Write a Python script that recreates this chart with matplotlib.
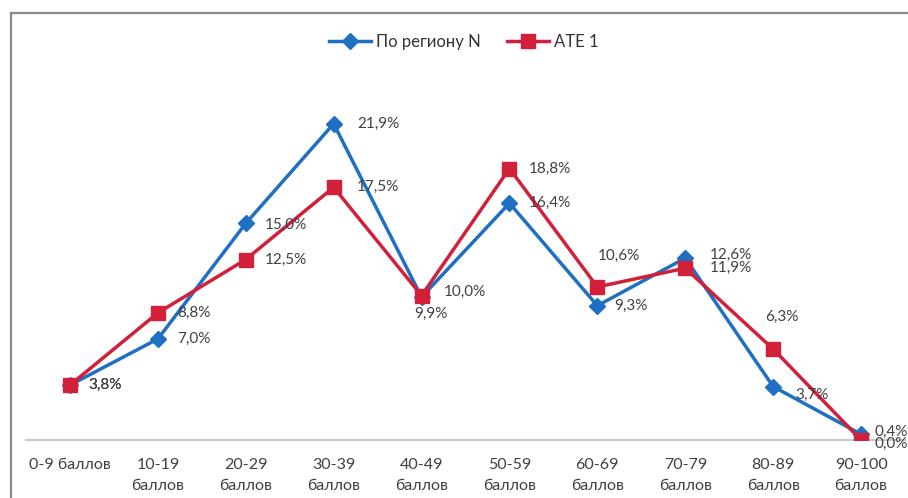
import matplotlib
matplotlib.use("Agg")
import matplotlib.pyplot as plt
from matplotlib.lines import Line2D

categories = ["0-9 баллов", "10-19\nбаллов", "20-29\nбаллов", "30-39\nбаллов", "40-49\nбаллов",
              "50-59\nбаллов", "60-69\nбаллов", "70-79\nбаллов", "80-89\nбаллов", "90-100\nбаллов"]
region = [3.8, 7.0, 15.0, 21.9, 9.9, 16.4, 9.3, 12.6, 3.7, 0.4]
ate = [3.8, 8.8, 12.5, 17.5, 10.0, 18.8, 10.6, 11.9, 6.3, 0.0]
series_names = ["По региону N", "АТЕ 1"]

plt.rcParams['font.family'] = ['Lato', 'DejaVu Sans']

W, H = 908, 498
fig = plt.figure(figsize=(W / 100, H / 100), dpi=100)
ax_left, ax_right = 26 / W, 905 / W
ax_bottom, ax_top = (H - 440) / H, (H - 79) / H
ax = fig.add_axes([ax_left, ax_bottom, ax_right - ax_left, ax_top - ax_bottom])

blue = "#1f6fc2"
red = "#d2203a"
x = list(range(len(categories)))
ax.plot(x, region, color=blue, lw=2.5, marker="D", ms=8, label=series_names[0], zorder=3)
ax.plot(x, ate, color=red, lw=2.5, marker="s", ms=10, label=series_names[1], zorder=4)

ax.set_xlim(-0.5, 9.5)
ax.set_ylim(0, 25)
for s in ["top", "right", "left"]:
    ax.spines[s].set_visible(False)
ax.spines["bottom"].set_color("#c8c8c8")
ax.spines["bottom"].set_linewidth(1.5)
ax.set_yticks([])
ax.set_xticks(x)
ax.set_xticklabels(categories, fontsize=11.5, color="#404040", linespacing=1.6, va="top")
ax.tick_params(axis="x", length=0, pad=13)

def fmt(v):
    return f"{v:.1f}%".replace(".", ",")

# label offsets in points (dx, dy)
reg_off = [(13, 0), (14, 0), (14, -1), (17, 0), (-5, -12), (14, 0), (12, 0), (18, 2), (16, -6), (10, 2)]
ate_off = [(13, 0), (14, 0), (14, 0), (17, 0), (16, 3), (14, 0), (0, 22), (18, 0), (-6, 23), (10, -3)]
for i in x:
    ax.annotate(fmt(region[i]), (i, region[i]), xytext=reg_off[i], textcoords="offset points",
                ha="left", va="center", fontsize=11, color="#404040", zorder=5, annotation_clip=False)
    ax.annotate(fmt(ate[i]), (i, ate[i]), xytext=ate_off[i], textcoords="offset points",
                ha="left", va="center", fontsize=11, color="#404040", zorder=5, annotation_clip=False)

leg = fig.legend(loc="center", bbox_to_anchor=(464 / W, 1 - 42 / H), ncol=2, frameon=False,
                 fontsize=12, handlelength=2.5, columnspacing=1.6, handletextpad=0.3)
for t in leg.get_texts():
    t.set_color("#333333")

# chart frame (left and top edges visible)
fig.add_artist(Line2D([11 / W, 11 / W], [0, 1 - 13 / H], color="#8a8a8a", lw=1.6, transform=fig.transFigure))
fig.add_artist(Line2D([11 / W, 1], [1 - 13 / H, 1 - 13 / H], color="#8a8a8a", lw=1.6, transform=fig.transFigure))

fig.savefig("out.png", dpi=100)
